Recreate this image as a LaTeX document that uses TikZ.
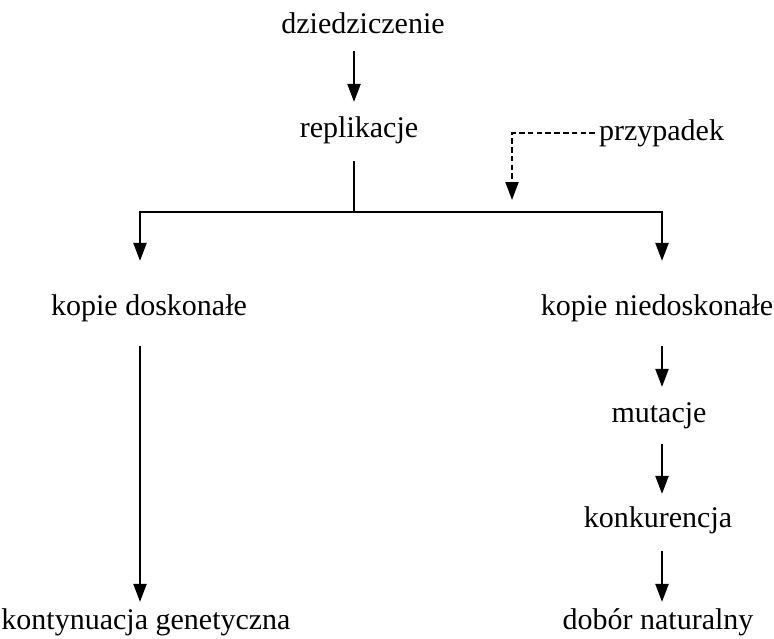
\documentclass[tikz,border=0pt]{standalone}
\usepackage{fontspec}
\setmainfont{Liberation Serif}
\usetikzlibrary{arrows.meta}

\begin{document}
\begin{tikzpicture}[x=0.5pt,y=-0.5pt,>={Triangle[width=6.5pt,length=9pt]},line width=1.1pt,
    word/.style={inner sep=0pt,anchor=base,text height=10.5pt,text depth=3.75pt,font=\fontsize{15}{18}\selectfont},
    chance/.style={dash pattern=on 2.8pt off 1.6pt,line width=1pt}]
            \useasboundingbox (0,0) rectangle (774,638);

            % columns of the arrows
            \coordinate (C) at (354,0);
            \coordinate (L) at (140,0);
            \coordinate (R) at (662,0);
            \coordinate (bL) at (140,212);
            \coordinate (bC) at (354,212);
            \coordinate (bR) at (662,212);
            \coordinate (bD) at (512,212);

            \node[word] (dz) at (363,33) {dziedziczenie};
            \node[word] (rep) at (359,137) {replikacje};
            \node[word,anchor=base west] (prz) at (598,140) {przypadek};
            \node[word] (kd) at (149,315) {kopie doskonałe};
            \node[word] (kn) at (657,315) {kopie niedoskonałe};
            \node[word] (mut) at (659,422) {mutacje};
            \node[word] (konk) at (658,527) {konkurencja};
            \node[word] (kg) at (146,629) {kontynuacja genetyczna};
            \node[word] (dob) at (658,629) {dobór naturalny};

            \draw[<->,shorten <=16pt,shorten >=16pt] (kd.north -| L) -- (bL) -- (bR) -- (kn.north -| R);
            \draw[chance,->,shorten <=1.5pt,shorten >=6pt] (prz.west) -| (bD);

            \path[->]
                (dz.south -| C) edge[shorten <=4.75pt,shorten >=6.5pt] (rep.north -| C)
                (rep.south -| C) edge[-,shorten <=7.75pt] (bC)

                (kd.south -| L) edge[shorten <=11.25pt,shorten >=2.5pt] (kg.north -| L)

                (kn.south -| R) edge[shorten <=11.25pt,shorten >=6.5pt] (mut.north -| R)
                (mut.south -| R) edge[shorten <=6.75pt,shorten >=5.5pt] (konk.north -| R)
                (konk.south -| R) edge[shorten <=7.75pt,shorten >=2.5pt] (dob.north -| R)
                ;
        \end{tikzpicture}
\end{document}
